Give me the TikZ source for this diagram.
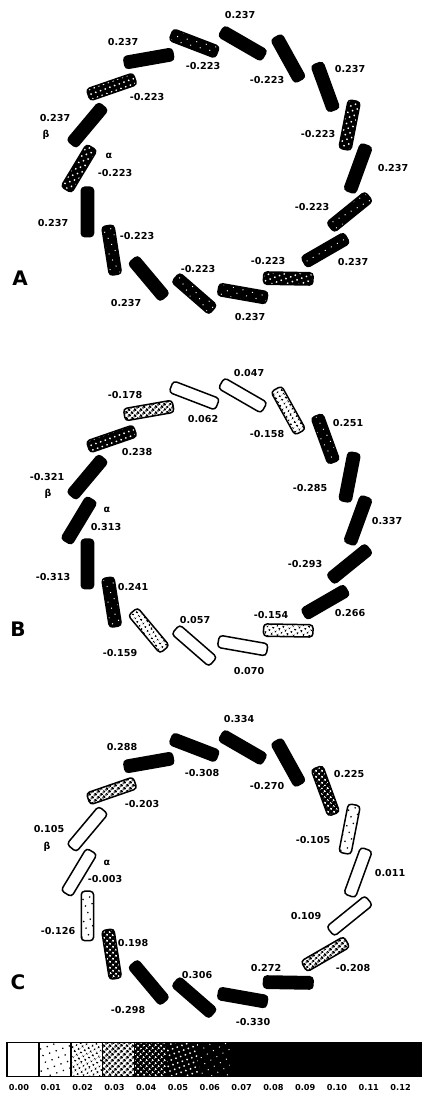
\documentclass[tikz,border=0pt]{standalone}
\usepackage{fontspec}
\setmainfont{DejaVu Sans}
\usetikzlibrary{patterns.meta}

% one ring of 18 helices: #1 ring name, #2 vertical offset, #3 shading levels
\newcommand\helixring[3]{%
  \foreach \l [count=\k from 0] in {#3} {
    \pgfmathsetmacro\ph{100-20*\k}
    \pgfmathsetmacro\rot{\ph+(isodd(\k)==1 ? 70 : 59)}
    \node[rod, lv\l, rotate=\rot] (rod-#1-\k)
      at ({218.5+139.5*cos(\ph)}, {168.5+#2-127*sin(\ph)}) {};
  }%
}

\begin{document}
\begin{tikzpicture}[x=1pt, y=-1pt,
  rod/.style={draw=black, line width=1.5pt, rounded corners=3.5pt,
    minimum width=49.5pt, minimum height=12.3pt, inner sep=0pt, outer sep=0pt},
  cell/.style={draw=black, line width=1.5pt, minimum width=31.9pt,
    minimum height=34pt, inner sep=0pt, outer sep=0pt},
  lv0/.style={fill=white},
  lv1/.style={preaction={fill=white}, pattern={Dots[distance=7pt, radius=0.9pt, angle=20]}, pattern color=black},
  lv2/.style={preaction={fill=white}, pattern={Dots[distance=4pt, radius=1.3pt, angle=30]}, pattern color=black},
  lv3/.style={preaction={fill=white}, pattern={Dots[distance=4pt, radius=1.6pt, angle=45]}, pattern color=black},
  lv4/.style={preaction={fill=black}, pattern={Dots[distance=4pt, radius=1.3pt, angle=45]}, pattern color=white},
  lv5/.style={preaction={fill=black}, pattern={Dots[distance=5pt, radius=1.0pt, angle=20]}, pattern color=white},
  lv6/.style={preaction={fill=black}, pattern={Dots[distance=7pt, radius=0.7pt, angle=30]}, pattern color=white},
  lv7/.style={fill=black},
  val/.style={font=\bfseries\fontsize{9.6}{10}\selectfont, inner sep=0pt},
  greek/.style={font=\bfseries\fontsize{9.5}{10}\selectfont, inner sep=0pt},
  panel/.style={font=\bfseries\fontsize{20}{20}\selectfont, inner sep=0pt},
  barlab/.style={font=\bfseries\fontsize{8.2}{9}\selectfont, inner sep=0pt},
]
\useasboundingbox (0,0) rectangle (422,1101);

% ---------------- helices ----------------
\helixring{A}{0}{6,7,7,7,5,7,6,6,5,6,6,7,6,7,5,7,5,7}
\helixring{B}{352}{0,0,2,6,7,7,7,7,2,0,0,2,6,7,7,7,5,3}
\helixring{C}{704}{7,7,7,4,1,0,0,3,7,7,7,7,4,1,0,0,3,7}

% ---------------- panel A ----------------
\node[panel] (pA) at (20,278) {A};
\node[val] (a1)  at (240,15)  {0.237};
\node[val] (a2)  at (123,42)  {0.237};
\node[val] (a3)  at (203,66)  {-0.223};
\node[val] (a4)  at (267,80)  {-0.223};
\node[val] (a5)  at (350,69)  {0.237};
\node[val] (a6)  at (147,97)  {-0.223};
\node[val] (a7)  at (55,118)  {0.237};
\node[greek] (aB) at (46,135) {β};
\node[greek] (aA) at (109,156) {α};
\node[val] (a8)  at (115,173) {-0.223};
\node[val] (a9)  at (318,134) {-0.223};
\node[val] (a10) at (393,168) {0.237};
\node[val] (a11) at (53,223)  {0.237};
\node[val] (a12) at (137,236) {-0.223};
\node[val] (a13) at (312,207) {-0.223};
\node[val] (a14) at (268,261) {-0.223};
\node[val] (a15) at (353,262) {0.237};
\node[val] (a16) at (198,269) {-0.223};
\node[val] (a17) at (126,303) {0.237};
\node[val] (a18) at (250,317) {0.237};

% ---------------- panel B ----------------
\node[panel] (pB) at (18,629) {B};
\node[val] (b1)  at (249,373) {0.047};
\node[val] (b2)  at (125,395) {-0.178};
\node[val] (b3)  at (203,419) {0.062};
\node[val] (b4)  at (267,434) {-0.158};
\node[val] (b5)  at (348,423) {0.251};
\node[val] (b6)  at (137,452) {0.238};
\node[val] (b7)  at (47,477)  {-0.321};
\node[greek] (bB) at (48,494) {β};
\node[val] (b8)  at (310,488) {-0.285};
\node[greek] (bA) at (107,510) {α};
\node[val] (b9)  at (106,527) {0.313};
\node[val] (b10) at (387,521) {0.337};
\node[val] (b11) at (305,564) {-0.293};
\node[val] (b12) at (53,577)  {-0.313};
\node[val] (b13) at (133,587) {0.241};
\node[val] (b14) at (271,615) {-0.154};
\node[val] (b15) at (350,613) {0.266};
\node[val] (b16) at (195,620) {0.057};
\node[val] (b17) at (120,653) {-0.159};
\node[val] (b18) at (249,671) {0.070};

% ---------------- panel C ----------------
\node[panel] (pC) at (18,982) {C};
\node[val] (c1)  at (239,719) {0.334};
\node[val] (c2)  at (122,747) {0.288};
\node[val] (c3)  at (202,773) {-0.308};
\node[val] (c4)  at (267,786) {-0.270};
\node[val] (c5)  at (349,774) {0.225};
\node[val] (c6)  at (142,804) {-0.203};
\node[val] (c7)  at (49,829)  {0.105};
\node[greek] (cB) at (47,847) {β};
\node[val] (c8)  at (313,840) {-0.105};
\node[greek] (cA) at (107,863) {α};
\node[val] (c9)  at (105,879) {-0.003};
\node[val] (c10) at (390,873) {0.011};
\node[val] (c11) at (306,916) {0.109};
\node[val] (c12) at (58,931)  {-0.126};
\node[val] (c13) at (133,943) {0.198};
\node[val] (c14) at (266,968) {0.272};
\node[val] (c15) at (353,968) {-0.208};
\node[val] (c16) at (197,975) {0.306};
\node[val] (c17) at (128,1010) {-0.298};
\node[val] (c18) at (253,1022) {-0.330};

% ---------------- shading scale ----------------
\foreach \l/\t [count=\i from 0] in
  {0/0.00,1/0.01,2/0.02,3/0.03,4/0.04,5/0.05,6/0.06,7/0.07,7/0.08,7/0.09,7/0.10,7/0.11,7/0.12} {
  \node[cell, lv\l] (cell-\i) at ({7+31.9*(\i+0.5)}, 1059.5) {};
  \node[barlab] (scale-\i) at ({19+31.8*\i}, 1088) {\t};
}
\end{tikzpicture}
\end{document}
